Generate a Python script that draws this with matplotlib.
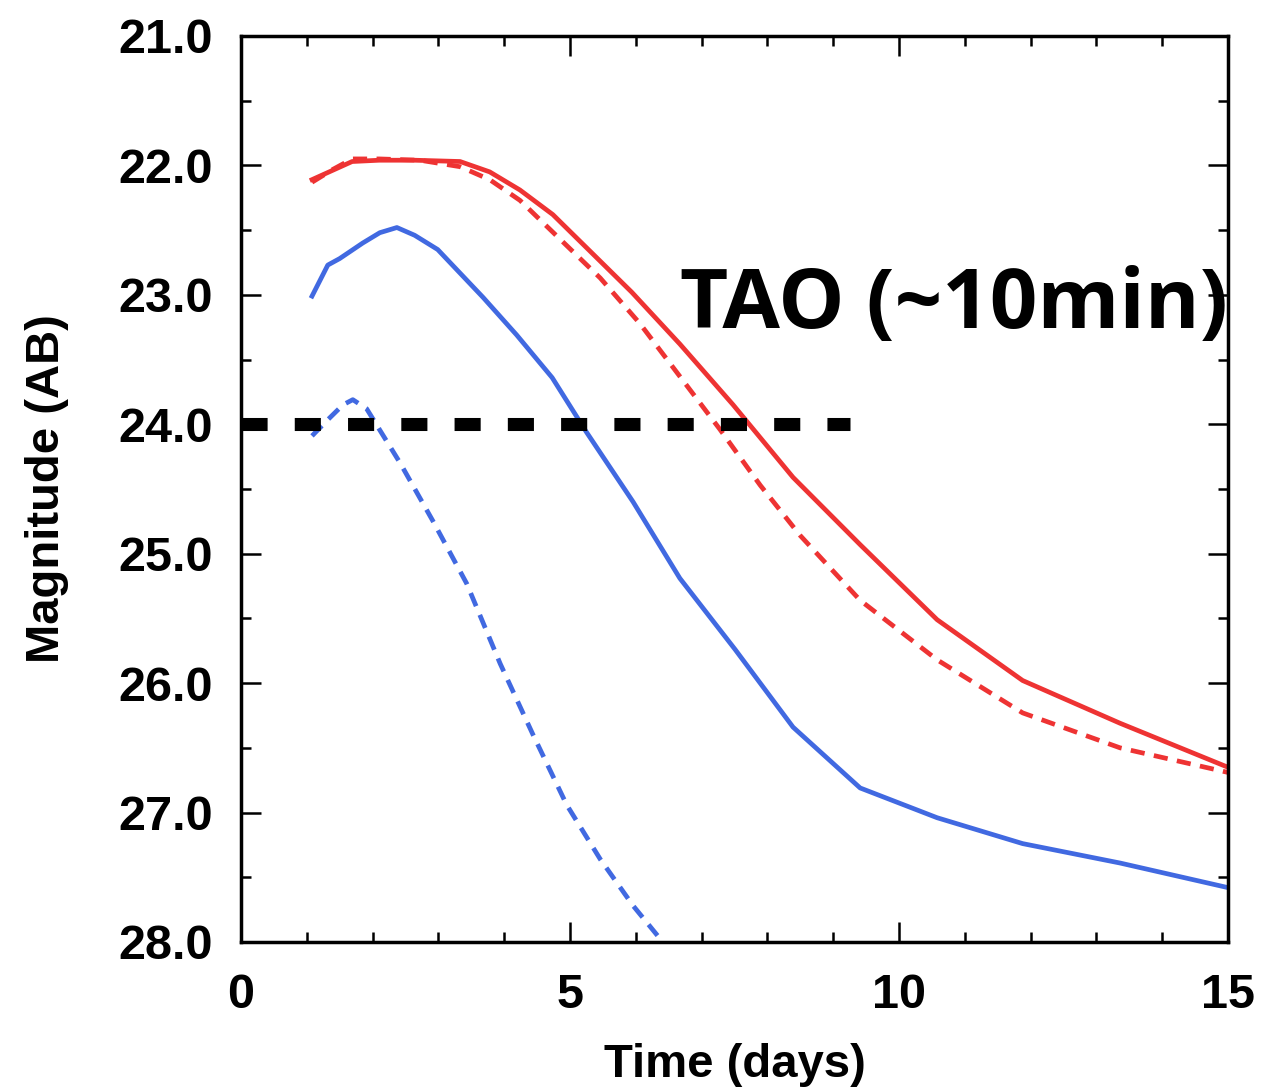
import numpy as np
import matplotlib
matplotlib.use("Agg")
import matplotlib.pyplot as plt
from matplotlib.ticker import MultipleLocator, FormatStrFormatter

# Light curves (time in days, AB magnitude)
red_solid_t = [1.08, 1.69, 2.10, 2.64, 3.33, 3.78, 4.24, 4.74, 5.30, 5.94,
               6.67, 7.48, 8.39, 9.41, 10.58, 11.88, 13.36, 15.0]
red_solid_m = [22.11, 21.97, 21.96, 21.96, 21.97, 22.05, 22.19, 22.38, 22.66, 22.98,
               23.38, 23.85, 24.41, 24.93, 25.51, 25.98, 26.31, 26.65]

red_dash_t = [1.08, 1.40, 1.69, 2.10, 2.72, 3.33, 3.78, 4.24, 4.85, 5.46, 6.06,
              6.67, 7.28, 7.89, 8.50, 9.41, 10.58, 11.88, 13.36, 15.0]
red_dash_m = [22.13, 22.03, 21.95, 21.95, 21.96, 22.01, 22.11, 22.27, 22.57, 22.87, 23.22,
              23.63, 24.04, 24.47, 24.86, 25.36, 25.82, 26.23, 26.50, 26.69]

blue_solid_t = [1.08, 1.32, 1.50, 1.85, 2.11, 2.37, 2.64, 2.99, 3.68, 4.19, 4.73,
                5.25, 5.96, 6.67, 7.51, 8.39, 9.41, 10.58, 11.88, 13.36, 15.0]
blue_solid_m = [23.01, 22.77, 22.72, 22.60, 22.52, 22.48, 22.54, 22.65, 23.02, 23.31, 23.64,
                24.06, 24.60, 25.19, 25.74, 26.34, 26.81, 27.04, 27.24, 27.39, 27.58]

blue_dash_t = [1.08, 1.31, 1.55, 1.70, 1.91, 2.42, 2.92, 3.43, 3.94, 4.44,
               4.95, 5.46, 5.96, 6.41]
blue_dash_m = [24.09, 23.97, 23.85, 23.81, 23.88, 24.30, 24.75, 25.23, 25.85, 26.40,
               26.94, 27.36, 27.72, 28.0]

# TAO limiting magnitude
limit_t = [0.0, 9.25]
limit_m = [24.0, 24.0]

red = '#EE3333'
blue = '#4169E1'

fig = plt.figure(figsize=(12.83, 10.9), dpi=100)
ax = fig.add_axes([0.1878, 0.1358, 0.7693, 0.8312])

ax.plot(red_solid_t, red_solid_m, color=red, lw=3.4)
ax.plot(red_dash_t, red_dash_m, color=red, lw=3.4, dashes=(3, 2))
ax.plot(blue_solid_t, blue_solid_m, color=blue, lw=3.4)
ax.plot(blue_dash_t, blue_dash_m, color=blue, lw=3.4, dashes=(3, 2))
ax.plot(limit_t, limit_m, color='black', lw=9.4, dashes=(2.0, 2.08),
        solid_capstyle='butt', dash_capstyle='butt')

ax.text(6.67, 23.26, 'TAO (~10min)', fontsize=60, fontweight='bold',
        family='Open Sans', ha='left', va='baseline', clip_on=False)

ax.set_xlim(0, 15)
ax.set_ylim(28, 21)

ax.xaxis.set_major_locator(MultipleLocator(5))
ax.xaxis.set_minor_locator(MultipleLocator(1))
ax.yaxis.set_major_locator(MultipleLocator(1))
ax.yaxis.set_minor_locator(MultipleLocator(0.5))
ax.yaxis.set_major_formatter(FormatStrFormatter('%.1f'))

for s in ax.spines.values():
    s.set_linewidth(2.5)

ax.tick_params(which='both', direction='in', top=True, right=True, width=1.8)
ax.tick_params(which='major', length=14.4)
ax.tick_params(which='minor', length=7.2)
ax.tick_params(axis='x', which='major', pad=22)
ax.tick_params(axis='y', which='major', pad=20)

for lab in ax.get_xticklabels() + ax.get_yticklabels():
    lab.set_family('Liberation Sans')
    lab.set_fontweight('bold')
    lab.set_fontsize(35)

ax.set_xlabel('Time (days)', family='Liberation Sans', fontweight='bold',
              fontsize=34, labelpad=18)
ax.set_ylabel('Magnitude (AB)', family='Liberation Sans', fontweight='bold',
              fontsize=34, labelpad=36)

fig.savefig('out.png', dpi=100)
